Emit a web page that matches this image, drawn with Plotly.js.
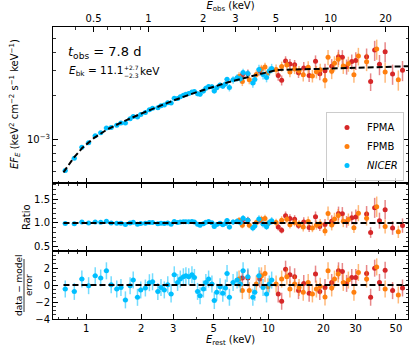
<!DOCTYPE html>
<html>
<head>
<meta charset="utf-8">
<script src="https://cdn.plot.ly/plotly-3.0.1.min.js"></script>
<style>html,body{margin:0;padding:0;background:#fff}#chart{width:415px;height:358px}</style>
</head>
<body>
<div id="chart"></div>
<script>
// --- model (broken power law, rest frame) ---
const modelE = [0.75, 0.85, 0.95, 1.1, 1.3, 1.5, 2.0, 2.5, 3.0, 4.0, 5.0, 6.0, 8.0, 11.1, 20, 40, 58.2];
const modelF = [0.59e-3, 0.74e-3, 0.87e-3, 1.02e-3, 1.17e-3, 1.28e-3, 1.51e-3, 1.70e-3, 1.86e-3, 2.12e-3,
                2.33e-3, 2.49e-3, 2.74e-3, 3.03e-3, 3.09e-3, 3.17e-3, 3.22e-3];

// --- NICER ---
const niE = [0.767, 0.86, 0.946, 1.03, 1.12, 1.20, 1.29, 1.37, 1.47, 1.55, 1.64, 1.74, 1.81, 1.91, 1.99,
             2.11, 2.22, 2.31, 2.47, 2.57, 2.68, 2.80, 2.92, 3.04, 3.17, 3.28, 3.41, 3.52, 3.65, 3.80, 3.92,
             4.08, 4.21, 4.39, 4.53, 4.69, 4.89, 5.04, 5.20, 5.42, 5.61, 5.80, 5.92, 6.10, 6.39, 6.72, 7.00,
             7.25, 7.70, 8.20, 8.40, 8.86, 9.33, 9.75, 10.1, 10.4];
const niF = [0.607e-3, 0.739e-3, 0.880e-3, 0.947e-3, 1.058e-3, 1.113e-3, 1.200e-3, 1.210e-3, 1.252e-3, 1.297e-3,
             1.301e-3, 1.391e-3, 1.443e-3, 1.428e-3, 1.487e-3, 1.539e-3, 1.607e-3, 1.645e-3, 1.657e-3, 1.711e-3,
             1.733e-3, 1.798e-3, 1.786e-3, 1.927e-3, 1.922e-3, 1.972e-3, 2.021e-3, 2.056e-3, 2.084e-3, 2.135e-3,
             2.151e-3, 2.074e-3, 2.058e-3, 2.163e-3, 2.262e-3, 2.330e-3, 2.318e-3, 2.166e-3, 2.282e-3, 2.380e-3,
             2.334e-3, 2.424e-3, 2.610e-3, 2.288e-3, 2.588e-3, 2.675e-3, 2.638e-3, 2.915e-3, 2.861e-3, 2.464e-3,
             2.603e-3, 3.060e-3, 2.818e-3, 2.689e-3, 2.979e-3, 3.110e-3];
const niRatio = [0.988, 0.981, 1.018, 0.998, 1.022, 1.016, 1.033, 1.001, 0.991, 0.994, 0.965, 0.998, 1.012, 0.971,
                 0.988, 0.991, 1.007, 1.010, 0.981, 0.993, 0.986, 1.001, 0.974, 1.030, 1.008, 1.018, 1.024, 1.027,
                 1.024, 1.030, 1.022, 0.970, 0.950, 0.981, 1.012, 1.028, 1.005, 0.927, 0.966, 0.992, 0.961, 0.986,
                 1.054, 0.914, 1.018, 1.035, 1.007, 1.100, 1.058, 0.892, 0.936, 1.081, 0.979, 0.921, 1.009, 1.044];
const niRes = [-0.47, -0.75, 0.70, -0.08, 1.08, 0.82, 1.67, 0.04, -0.47, -0.28, -1.75, -0.08, 0.58, -1.45, -0.58,
               -0.35, 0.27, 0.38, -0.75, -0.28, -0.58, 0.03, -1.05, 1.20, 0.30, 0.70, 0.97, 1.08, 0.97, 1.20, 0.89,
               -0.75, -1.25, -0.47, 0.30, 0.70, 0.12, -1.83, -0.86, -0.20, -0.98, -0.35, 1.35, -1.44, 0.30, 0.58,
               0.12, 1.67, 0.97, -1.44, -0.86, 1.08, -0.28, -1.05, 0.12, 0.58];
const niPct = [2.5, 2.5, 2.5, 2, 2, 2, 2, 2, 2, 2, 2, 2, 2, 2, 2,
               2.5, 2.5, 2.5, 2.5, 2.5, 2.5, 2.5, 2.5, 2.5, 2.5, 2.5, 2.5, 2.5, 2.5, 2.5, 2.5,
               4, 4, 4, 4, 4, 4, 4, 4, 4, 4, 4, 4, 6, 6, 6, 6, 6, 6, 7.5, 7.5, 7.5, 7.5, 7.5, 7.5, 7.5];

// --- NuSTAR FPMB ---
const fbE = [6.89, 7.18, 7.84, 8.57, 9.14, 9.56, 9.93, 11.0, 11.8, 12.6, 13.1, 13.9, 14.7, 15.5, 16.5, 17.4,
             18.3, 19.2, 20.4, 21.2, 22.2, 23.0, 24.1, 25.7, 27.4, 29.4, 31.1, 34.5, 39.2, 43.6, 51.5];
const fbF = [2.734e-3, 2.520e-3, 2.594e-3, 2.823e-3, 3.076e-3, 3.175e-3, 2.895e-3, 3.059e-3, 3.207e-3, 3.280e-3,
             2.933e-3, 3.084e-3, 2.994e-3, 2.804e-3, 3.167e-3, 2.757e-3, 2.941e-3, 3.041e-3, 2.577e-3, 3.721e-3,
             2.976e-3, 3.371e-3, 3.594e-3, 3.233e-3, 3.347e-3, 2.812e-3, 3.788e-3, 3.460e-3, 4.244e-3, 2.937e-3,
             2.593e-3];
const fbRatio = [1.049, 0.954, 0.954, 1.008, 1.076, 1.095, 0.986, 1.010, 1.056, 1.078, 0.962, 1.010, 0.978, 0.914,
                 1.030, 0.895, 0.953, 0.984, 0.832, 1.200, 0.958, 1.084, 1.154, 1.036, 1.070, 0.897, 1.206, 1.098,
                 1.341, 0.925, 0.813];
const fbRes = [0.70, -0.66, -0.66, 0.12, 1.08, 1.35, -0.20, 0.12, 0.70, 0.97, -0.47, 0.12, -0.28, -0.86, 0.30,
               -1.05, -0.47, -0.16, -1.40, 1.67, -0.35, 0.70, 1.28, 0.30, 0.58, -0.86, 1.47, 0.70, 2.13, -0.47, -1.17];
const fbPct = [7, 7, 7, 7, 7, 7, 7, 8, 8, 8, 8, 8, 8, 10, 10, 10, 10, 10, 12, 12, 12, 12, 12, 12, 12, 12,
               14, 14, 16, 16, 16];

// --- NuSTAR FPMA ---
const faE = [7.18, 7.70, 8.95, 11.3, 11.8, 12.4, 13.1, 13.9, 14.6, 15.6, 16.7, 18.1, 19.1, 20.4, 22.2, 24.2,
             25.4, 26.8, 28.6, 30.1, 34.5, 36.3, 38.2, 40.6, 43.6, 47.9, 54.3];
const faF = [2.793e-3, 2.858e-3, 2.979e-3, 2.777e-3, 2.572e-3, 3.495e-3, 3.341e-3, 3.293e-3, 2.899e-3, 3.127e-3,
             2.775e-3, 3.480e-3, 2.858e-3, 2.992e-3, 3.218e-3, 3.738e-3, 3.716e-3, 3.198e-3, 3.467e-3, 3.530e-3,
             3.747e-3, 2.519e-3, 4.164e-3, 3.320e-3, 4.064e-3, 2.846e-3, 3.018e-3];
const faRatio = [1.057, 1.057, 1.049, 0.916, 0.847, 1.149, 1.096, 1.078, 0.947, 1.019, 0.902, 1.128, 0.925, 0.966,
                 1.036, 1.200, 1.191, 1.023, 1.107, 1.125, 1.189, 0.798, 1.317, 1.048, 1.280, 0.894, 0.944];
const faRes = [0.82, 0.82, 0.70, -1.05, -1.91, 1.86, 1.20, 0.97, -0.66, 0.19, -0.98, 1.28, -0.75, -0.28, 0.30,
               1.67, 1.59, 0.19, 0.89, 0.89, 1.35, -1.44, 1.98, 0.30, 1.75, -0.66, -0.35];
const faPct = [7, 7, 7, 8, 8, 8, 8, 8, 8, 10, 10, 10, 10, 12, 12, 12, 12, 12, 12, 14, 14, 14, 16, 16, 16, 16, 16];

// --- axis ticks ---
const restTicks = [1, 2, 3, 5, 10, 20, 30, 50];
const restTickText = ['1', '2', '3', '5', '10', '20', '30', '50'];
const restMinor = [0.7, 0.8, 0.9, 4, 6, 7, 8, 9, 40];
const obsTicks = [0.5, 1, 2, 3, 5, 10, 20];
const obsTickText = ['0.5', '1', '2', '3', '5', '10', '20'];
const obsMinor = [0.4, 0.6, 0.7, 0.8, 0.9, 4, 6, 7, 8, 9];
const fluxMinor = [6e-4, 7e-4, 8e-4, 9e-4, 2e-3, 3e-3, 4e-3, 5e-3];

(function () {
  'use strict';

  const FONT = 'DejaVu Sans, sans-serif';
  const W = 415, H = 358, L = 53, R = 7, T = 27, B = 39;
  const PW = W - L - R, PH = H - T - B;
  const fx = px => (px - L) / PW;          // pixel -> paper
  const fy = py => (H - B - py) / PH;

  const Z = 1 + 1.193;                      // redshift factor rest/obs
  const X_RANGE = [Math.log10(0.657), Math.log10(58.2)];
  const OBS_RANGE = [X_RANGE[0] - Math.log10(Z), X_RANGE[1] - Math.log10(Z)];

  const C = {
    FPMA: { c: '#d62728', e: 'rgba(214,39,40,0.55)' },
    FPMB: { c: '#ff7f0e', e: 'rgba(255,127,14,0.55)' },
    NICER: { c: '#00bfff', e: 'rgba(0,191,255,0.55)' }
  };

  const sets = [
    { name: 'FPMA', E: faE, F: faF, ratio: faRatio, res: faRes, pct: faPct, xpct: 2.5, col: C.FPMA },
    { name: 'FPMB', E: fbE, F: fbF, ratio: fbRatio, res: fbRes, pct: fbPct, xpct: 2.5, col: C.FPMB },
    { name: '<i>NICER</i>', E: niE, F: niF, ratio: niRatio, res: niRes, pct: niPct, xpct: 3.5, col: C.NICER }
  ];

  const traces = [];
  function pts(s, x, y, ey, xa, ya, legend) {
    return {
      x: x, y: y, xaxis: xa, yaxis: ya, type: 'scatter', mode: 'markers',
      name: s.name, showlegend: legend, hoverinfo: 'skip',
      marker: { color: s.col.c, size: 5, line: { width: 0 } },
      error_y: Object.assign({ color: s.col.e, thickness: 1.5, width: 0 }, ey),
      error_x: { type: 'percent', value: s.xpct, color: s.col.e, thickness: 1.5, width: 0 }
    };
  }
  sets.forEach(s => {
    traces.push(pts(s, s.E, s.F, { type: 'data', array: s.F.map((f, i) => f * s.pct[i] / 100) }, 'x', 'y', true));
    traces.push(pts(s, s.E, s.ratio, { type: 'data', array: s.ratio.map((r, i) => r * s.pct[i] / 100) }, 'x2', 'y2', false));
    traces.push(pts(s, s.E, s.res, { type: 'constant', value: 1 }, 'x3', 'y3', false));
  });

  const dashLine = { color: '#000', width: 2, dash: '6px,3px' };
  const lineX = [modelE[0], modelE[modelE.length - 1]];
  traces.push({ x: modelE, y: modelF, xaxis: 'x', yaxis: 'y', mode: 'lines', line: dashLine, showlegend: false, hoverinfo: 'skip' });
  traces.push({ x: lineX, y: [1, 1], xaxis: 'x2', yaxis: 'y2', mode: 'lines', line: dashLine, showlegend: false, hoverinfo: 'skip' });
  traces.push({ x: lineX, y: [0, 0], xaxis: 'x3', yaxis: 'y3', mode: 'lines', line: dashLine, showlegend: false, hoverinfo: 'skip' });
  // keeps the top (observer frame) axis alive
  traces.push({ x: [1], y: [1e-3], xaxis: 'x4', yaxis: 'y', mode: 'markers', marker: { opacity: 0 }, showlegend: false, hoverinfo: 'skip' });

  const tickFont = { family: FONT, size: 10, color: '#000' };
  const base = {
    ticks: 'inside', ticklen: 5, tickwidth: 1, tickcolor: '#000',
    showline: true, linecolor: '#000', linewidth: 1,
    showgrid: false, zeroline: false, automargin: false, tickfont: tickFont
  };
  const minorBase = { ticks: 'inside', ticklen: 2.5, tickwidth: 0.8, tickcolor: '#000', showgrid: false };

  const dRes = [0, 68 / PH], dRat = [68 / PH, 136 / PH], dMain = [136 / PH, 1];

  const restAxis = Object.assign({}, base, {
    type: 'log', tickmode: 'array', tickvals: restTicks, ticktext: restTickText,
    minor: Object.assign({}, minorBase, { tickmode: 'array', tickvals: restMinor })
  });

  const ann = (px, py, text, size, extra) => Object.assign({
    xref: 'paper', yref: 'paper', x: fx(px), y: fy(py), xanchor: 'left', yanchor: 'middle',
    showarrow: false, text: text, font: { family: FONT, size: size, color: '#000' }
  }, extra || {});
  const vert = { xanchor: 'center', textangle: -90 };

  const layout = {
    width: W, height: H,
    margin: { l: L, r: R, t: T, b: B, pad: 0 },
    paper_bgcolor: '#fff', plot_bgcolor: '#fff',
    font: { family: FONT, size: 10, color: '#000' },
    xaxis: Object.assign({}, restAxis, { range: X_RANGE, anchor: 'y', showticklabels: false, mirror: false }),
    xaxis2: Object.assign({}, restAxis, { matches: 'x', anchor: 'y2', showticklabels: false, mirror: 'ticks' }),
    xaxis3: Object.assign({}, restAxis, {
      matches: 'x', anchor: 'y3', mirror: 'ticks',
      title: { text: '<i>E</i><sub>rest</sub> (keV)', font: { family: FONT, size: 10 }, standoff: 2 }
    }),
    xaxis4: Object.assign({}, base, {
      type: 'log', overlaying: 'x', side: 'top', anchor: 'y', range: OBS_RANGE,
      tickmode: 'array', tickvals: obsTicks, ticktext: obsTickText,
      minor: Object.assign({}, minorBase, { tickmode: 'array', tickvals: obsMinor }),
      title: { text: '<i>E</i><sub>obs</sub> (keV)', font: { family: FONT, size: 10 }, standoff: 2 }
    }),
    yaxis: Object.assign({}, base, {
      type: 'log', domain: dMain, range: [-3.303, -2.22], anchor: 'x', mirror: 'ticks',
      tickmode: 'array', tickvals: [1e-3], ticktext: ['10<sup>−3</sup>'],
      minor: Object.assign({}, minorBase, { tickmode: 'array', tickvals: fluxMinor })
    }),
    yaxis2: Object.assign({}, base, {
      domain: dRat, range: [0.41, 1.84], anchor: 'x2', mirror: 'ticks',
      tickmode: 'array', tickvals: [0.5, 1.0, 1.5], ticktext: ['0.5', '1.0', '1.5'],
      minor: Object.assign({}, minorBase, { tickmode: 'linear', tick0: 0, dtick: 0.1 })
    }),
    yaxis3: Object.assign({}, base, {
      domain: dRes, range: [-4, 4], anchor: 'x3', mirror: 'ticks',
      tickmode: 'array', tickvals: [-4, -2, 0, 2], ticktext: ['−4', '−2', '0', '2'],
      minor: Object.assign({}, minorBase, { tickmode: 'linear', tick0: 0, dtick: 0.5 })
    }),
    showlegend: true,
    legend: {
      x: fx(404), y: fy(181), xanchor: 'right', yanchor: 'bottom',
      bgcolor: 'rgba(255,255,255,0.8)', bordercolor: '#cccccc', borderwidth: 1,
      font: { family: FONT, size: 10, color: '#000' }, tracegroupgap: 0
    },
    annotations: [
      ann(66, 52, '<i>t</i><sub>obs</sub> = 7.8 d', 13),
      ann(67, 71, '<i>E</i><sub>bk</sub> = 11.1', 10.5),
      ann(122, 67, '+2.7', 6),
      ann(122, 75, '−2.3', 6),
      ann(138, 71, 'keV', 10.5),
      ann(15, 104, '<i>EF</i><sub><i>E</i></sub> (keV<sup>2</sup> cm<sup>−2</sup> s<sup>−1</sup> keV<sup>−1</sup>)', 10, vert),
      ann(27, 217, 'Ratio', 10, vert),
      ann(19, 285, 'data − model', 9, vert),
      ann(29, 285, 'error', 9, vert)
    ],
    shapes: [
      { type: 'line', xref: 'paper', yref: 'paper', x0: fx(24), x1: fx(24), y0: fy(259), y1: fy(312),
        line: { color: '#000', width: 0.8 } }
    ]
  };

  Plotly.newPlot('chart', traces, layout, { staticPlot: true, displayModeBar: false });
})();
</script>
</body>
</html>
